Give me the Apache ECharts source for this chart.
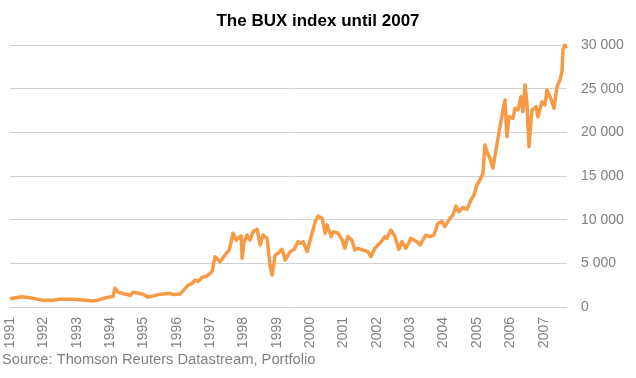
<!DOCTYPE html>
<html>
<head>
<meta charset="utf-8">
<script src="https://cdn.jsdelivr.net/npm/echarts@6/dist/echarts.min.js"></script>
<style>html,body{margin:0;padding:0;background:#fff;}#chart{width:636px;height:378px;}</style>
</head>
<body>
<div id="chart"></div>
<script>
// Time in decimal years
const dates = [1991.00,1991.35,1991.60,1992.00,1992.30,1992.50,1992.89,1993.19,1993.49,1993.64,1993.91,1994.09,1994.15,1994.24,1994.45,1994.60,1994.69,1994.84,1994.99,1995.14,1995.29,1995.50,1995.80,1995.89,1996.10,1996.25,1996.34,1996.46,1996.55,1996.64,1996.76,1996.91,1997.06,1997.15,1997.30,1997.45,1997.57,1997.69,1997.78,1997.84,1997.93,1997.96,1998.02,1998.11,1998.20,1998.29,1998.41,1998.50,1998.59,1998.71,1998.80,1998.86,1998.95,1999.04,1999.16,1999.25,1999.40,1999.52,1999.64,1999.70,1999.79,1999.91,2000.00,2000.15,2000.24,2000.36,2000.45,2000.51,2000.63,2000.69,2000.84,2000.96,2001.04,2001.13,2001.25,2001.34,2001.43,2001.58,2001.73,2001.82,2001.94,2002.09,2002.24,2002.30,2002.42,2002.54,2002.66,2002.75,2002.87,2003.02,2003.20,2003.29,2003.47,2003.59,2003.71,2003.83,2003.95,2004.04,2004.13,2004.19,2004.28,2004.37,2004.46,2004.58,2004.70,2004.82,2004.91,2005.00,2005.09,2005.18,2005.24,2005.30,2005.39,2005.48,2005.57,2005.63,2005.69,2005.78,2005.84,2005.90,2005.96,2006.08,2006.14,2006.23,2006.32,2006.38,2006.44,2006.50,2006.56,2006.65,2006.77,2006.83,2006.95,2007.04,2007.10,2007.19,2007.25,2007.31,2007.40,2007.49,2007.55,2007.58,2007.64,2007.67];
const bux = [950,1180,1065,760,780,900,880,800,700,780,1100,1200,2150,1700,1480,1350,1700,1570,1450,1130,1260,1470,1550,1420,1480,2100,2500,2700,3090,2900,3400,3550,4050,5760,5190,5950,6530,8440,7670,7860,8130,5570,7480,8240,7670,8620,8900,7100,8240,7860,4610,3660,5950,6150,6600,5380,6330,6600,7480,7290,7480,6330,7670,9770,10400,10150,8440,9390,8050,8620,8440,7670,6720,8050,7670,6530,6720,6530,6330,5760,6720,7290,8050,7860,8820,8050,6600,7480,6720,7860,7480,7100,8240,8050,8240,9580,9770,9200,9770,10150,10530,11560,10910,11410,11180,12250,12820,13970,14540,15310,18550,17780,17000,15900,17980,19320,20640,22560,23700,19500,21790,21600,22750,22560,24080,22360,25420,23320,18360,22560,22940,21790,23510,23130,24850,24080,23510,22750,25230,26000,26950,29430,30000,29600];
const yTicks = [0,5000,10000,15000,20000,25000,30000];
const titleText = 'The BUX index until 2007';
const sourceText = 'Source: Thomson Reuters Datastream, Portfolio';

const FONT = 'Liberation Sans, Arial, sans-serif';
const chart = echarts.init(document.getElementById('chart'), null, {renderer:'canvas'});
chart.setOption({
  animation: false,
  backgroundColor: '#fff',
  title: {
    text: titleText, left: 'center', top: 8,
    textStyle: {fontFamily: FONT, fontSize: 17, fontWeight: 'bold', color: '#000'}
  },
  graphic: [{
    type: 'text', left: 2, top: 352,
    style: {text: sourceText, fontFamily: FONT, fontSize: 14.7, fill: '#808080'}
  }],
  grid: {left: 10, right: 69, top: 45, bottom: 71},
  xAxis: {
    type: 'value', min: 1991, max: 2007.7, interval: 1,
    axisLine: {show: false}, axisTick: {show: false}, splitLine: {show: false},
    axisLabel: {
      rotate: 90, margin: 10, color: '#808080', fontSize: 14,
      fontFamily: FONT,
      showMaxLabel: false,
      formatter: v => Number.isInteger(v) ? String(v) : ''
    }
  },
  yAxis: {
    type: 'value', position: 'right', min: yTicks[0], max: yTicks[yTicks.length-1], interval: 5000,
    axisLine: {show: false}, axisTick: {show: false},
    splitLine: {lineStyle: {color: '#d0d0d0', width: 1}},
    axisLabel: {
      margin: 14, color: '#808080', fontSize: 14,
      fontFamily: FONT,
      formatter: v => String(v).replace(/\B(?=(\d{3})+(?!\d))/g, ' ')
    }
  },
  series: [{
    type: 'line', showSymbol: false, symbol: 'none',
    data: dates.map((d, i) => [d, bux[i]]),
    lineStyle: {color: '#F79A45', width: 3.5, join: 'round'},
    itemStyle: {color: '#F79A45'}
  }]
});
</script>
</body>
</html>
